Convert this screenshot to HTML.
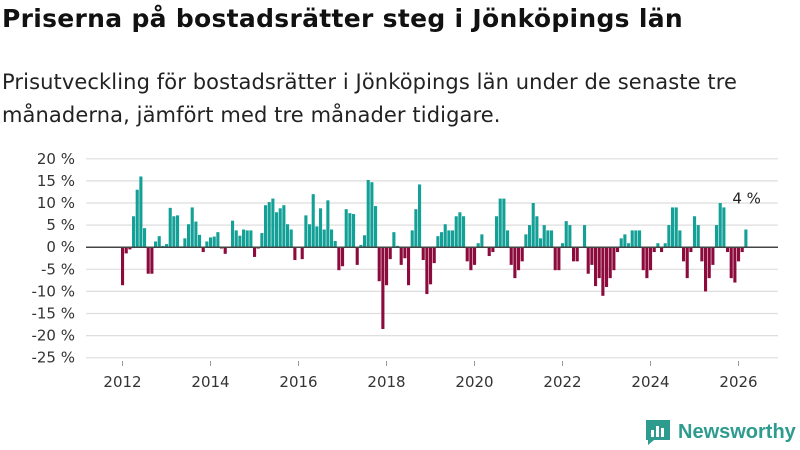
<!DOCTYPE html>
<html><head><meta charset="utf-8"><style>
body{margin:0;background:#fff;font-family:"Liberation Sans","DejaVu Sans",sans-serif;}
#wrap{position:relative;width:800px;height:450px;overflow:hidden;}
h1{position:absolute;left:2px;top:4px;margin:0;font-family:"DejaVu Sans",sans-serif;font-size:25px;letter-spacing:0.3px;font-weight:bold;color:#111;white-space:nowrap;}
p.sub{position:absolute;left:2px;top:66px;margin:0;font-family:"DejaVu Sans",sans-serif;font-size:21px;letter-spacing:0.1px;line-height:33px;color:#222;width:790px;}
svg{position:absolute;left:0;top:0;}
.logo{position:absolute;left:644px;top:418px;display:flex;align-items:center;color:#2e9b8f;font-weight:bold;font-size:20px;}
</style></head><body>
<div id="wrap">
<h1>Priserna på bostadsrätter steg i Jönköpings län</h1>
<p class="sub">Prisutveckling för bostadsrätter i Jönköpings län under de senaste tre månaderna, jämfört med tre månader tidigare.</p>
<svg id="chart" width="800" height="450"></svg>
<div class="logo">
<svg width="28" height="28" viewBox="0 0 28 28" style="position:static;margin-right:6px"><path d="M2 2h24v20H10l-6 5v-5H2z" fill="#2e9b8f"/><rect x="7" y="12" width="3" height="7" fill="#fff"/><rect x="12" y="8" width="3" height="11" fill="#fff"/><rect x="17" y="10" width="3" height="9" fill="#fff"/></svg>Newsworthy</div>
</div>
<script>
const values=[-8.6,-1.4,-0.5,7,13,16,4.3,-6,-6,1.3,2.5,0.3,
0.7,8.9,7,7.2,0.2,2,5.2,9,5.8,2.8,-1.1,1.3,
2.2,2.4,3.4,-0.3,-1.5,0,6,3.8,2.6,4,3.8,3.8,
-2.2,-0.3,3.2,9.5,10.2,11,7.9,8.8,9.5,5.2,4,-2.9,
0,-2.7,7.2,5.2,12,4.7,8.8,4,10.6,4,1.4,-5.2,
-4.3,8.6,7.7,7.5,-4,0.5,2.7,15.2,14.7,9.3,-7.7,-18.5,
-8.6,-2.7,3.4,0.3,-4,-2.5,-8.6,3.8,8.6,14.2,-2.9,-10.6,
-8.4,-3.6,2.5,3.4,5.2,3.8,3.8,7,7.9,7,-3.2,-5.2,
-4,0.9,2.9,0,-2,-1.1,7,11,11,3.8,-4,-7,
-5.2,-3.2,2.9,5,10,7,2,5,3.8,3.8,-5.2,-5.2,
0.9,5.9,5,-3.2,-3.2,0,5,-6,-4,-8.8,-7,-11,
-9,-7,-5.2,-1.1,2,2.9,0.9,3.8,3.8,3.8,-5.2,-7,
-5.2,-1.1,0.9,-1.1,0.9,5,9,9,3.8,-3.2,-7,-1.1,
7,5,-3.2,-10,-7,-4,5,10,9,-1.1,-7,-8,
-3.2,-1.1,4];
const yTicks=[20,15,10,5,0,-5,-10,-15,-20,-25];
const xYears=[2012,2014,2016,2018,2020,2022,2024,2026];
const startYear=2012;
const lastLabel="4 %";
const svg=document.getElementById('chart');
const NS='http://www.w3.org/2000/svg';
const y=v=>247.2-v*4.42;
const x=m=>121+m*(44/12);
function el(t,a){const e=document.createElementNS(NS,t);for(const k in a)e.setAttribute(k,a[k]);svg.appendChild(e);return e;}
yTicks.forEach(t=>{
 if(t!==0){const g=el('line',{x1:86,x2:778,y1:y(t),y2:y(t),stroke:'#dedede','stroke-width':1.2});
 
 }
 const l=el('text',{x:75,y:y(t)+5,'text-anchor':'end','font-size':15,fill:'#333','font-family':'DejaVu Sans, sans-serif'});
 l.textContent=t+' %';
 
 
});
values.forEach((v,i)=>{
 const r=el('rect',{x:x(i),width:3.1,y:Math.min(y(v),y(0)),height:Math.abs(y(v)-y(0)),fill:v>=0?'#13a096':'#8c0a3c'});
 
 
});
const z=el('line',{x1:86,x2:778,y1:y(0),y2:y(0),stroke:'#444','stroke-width':1.5});


xYears.forEach(yr=>{
 const m=(yr-startYear)*12;
 const tk=el('line',{x1:x(m)+1.5,x2:x(m)+1.5,y1:361,y2:366,stroke:'#999'});
 
 
 const l=el('text',{x:x(m)+1.5,y:387,'text-anchor':'middle','font-size':15,fill:'#333','font-family':'DejaVu Sans, sans-serif'});
 l.textContent=yr;
 
 
});
const li=values.length-1;
const ann=el('text',{x:x(li)-12,y:y(values[li])-26,'font-size':15,fill:'#222','font-family':'DejaVu Sans, sans-serif'});
ann.textContent=lastLabel;


</script>
</body></html>
